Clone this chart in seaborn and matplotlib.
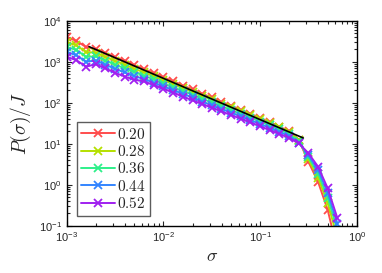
import numpy as np
import pandas as pd
import matplotlib
matplotlib.use("Agg")
import matplotlib.pyplot as plt
import seaborn as sns

# sigma grid (0.1 decade steps from 1e-3)
sigma = [0.001, 0.00126, 0.00158, 0.002, 0.00251, 0.00316, 0.00398, 0.00501,
         0.00631, 0.00794, 0.01, 0.0126, 0.0158, 0.02, 0.0251, 0.0316, 0.0398,
         0.0501, 0.0631, 0.0794, 0.1, 0.126, 0.158, 0.2, 0.251, 0.316, 0.398,
         0.501, 0.631]

# log10 P(sigma)/J
logp_020 = [3.60, 3.51, 3.36, 3.31, 3.22, 3.11, 3.03, 2.92, 2.82, 2.73, 2.62,
            2.53, 2.42, 2.33, 2.22, 2.13, 2.02, 1.93, 1.82, 1.73, 1.62, 1.53,
            1.42, 1.30, 1.10, 0.56, 0.07, -0.62, -1.60]
logp_028 = [3.48, 3.40, 3.24, 3.22, 3.12, 3.02, 2.93, 2.83, 2.74, 2.65, 2.55,
            2.46, 2.36, 2.27, 2.17, 2.08, 1.98, 1.89, 1.79, 1.70, 1.60, 1.50,
            1.40, 1.28, 1.08, 0.62, 0.17, -0.45, -1.30]
logp_036 = [3.36, 3.29, 3.12, 3.13, 3.03, 2.93, 2.84, 2.75, 2.66, 2.57, 2.47,
            2.38, 2.29, 2.20, 2.10, 2.01, 1.92, 1.82, 1.73, 1.64, 1.54, 1.45,
            1.35, 1.24, 1.06, 0.67, 0.27, -0.32, -1.10]
logp_044 = [3.24, 3.16, 3.00, 3.03, 2.93, 2.83, 2.74, 2.65, 2.58, 2.49, 2.40,
            2.31, 2.22, 2.13, 2.03, 1.94, 1.85, 1.76, 1.67, 1.58, 1.48, 1.39,
            1.29, 1.19, 1.03, 0.72, 0.36, -0.20, -0.95]
logp_052 = [3.12, 3.04, 2.88, 2.94, 2.84, 2.73, 2.64, 2.56, 2.52, 2.43, 2.34,
            2.25, 2.15, 2.06, 1.97, 1.88, 1.79, 1.70, 1.61, 1.52, 1.43, 1.33,
            1.24, 1.14, 1.01, 0.77, 0.44, -0.09, -0.82]

labels = ["0.20", "0.28", "0.36", "0.44", "0.52"]
colors = ["#ff4d4d", "#b5e000", "#2ef08a", "#3385ff", "#a020f0"]

# power-law guide line (slope -1)
fit_x = [0.0017, 0.28]
fit_y = [2340, 13.8]

series = [logp_020, logp_028, logp_036, logp_044, logp_052]

sns.set_style("ticks")
plt.rcParams["mathtext.fontset"] = "cm"
plt.rcParams["font.family"] = ["Liberation Sans", "DejaVu Sans"]

fig = plt.figure(figsize=(3.82, 2.73), dpi=100)
ax = fig.add_axes([0.1746, 0.173, 0.7594, 0.751])

for lbl, col, vals in zip(labels, colors, series):
    df = pd.DataFrame({"sigma": sigma, "P": 10 ** np.array(vals)})
    sns.lineplot(data=df, x="sigma", y="P", ax=ax, color=col, marker="x",
                 markersize=5.5, markeredgewidth=1.3, linewidth=1.4,
                 markeredgecolor=col, label=r"$" + lbl + "$")

ax.plot(fit_x, fit_y, color="black", linewidth=1.2)

ax.set_xscale("log")
ax.set_yscale("log")
ax.set_xlim(1e-3, 1)
ax.set_ylim(1e-1, 1e4)

ax.tick_params(which="both", direction="in", top=True, right=True,
               labelsize=8, width=0.8)
ax.tick_params(which="major", length=3.5)
ax.tick_params(which="minor", length=2)
for s in ax.spines.values():
    s.set_linewidth(1.0)
    s.set_color("black")

ax.set_xlabel(r"$\sigma$", fontsize=13, labelpad=3)
ax.set_ylabel(r"$P(\sigma)/J$", fontsize=14, labelpad=4)

leg = ax.legend(loc="lower left", bbox_to_anchor=(0.035, 0.05),
                fontsize=11, frameon=True, fancybox=False,
                handlelength=2.2, handletextpad=0.1, labelspacing=0.15,
                borderpad=0.3, borderaxespad=0)
leg.get_frame().set_edgecolor("#333333")
leg.get_frame().set_linewidth(1.0)

fig.savefig("out.png", dpi=100)
